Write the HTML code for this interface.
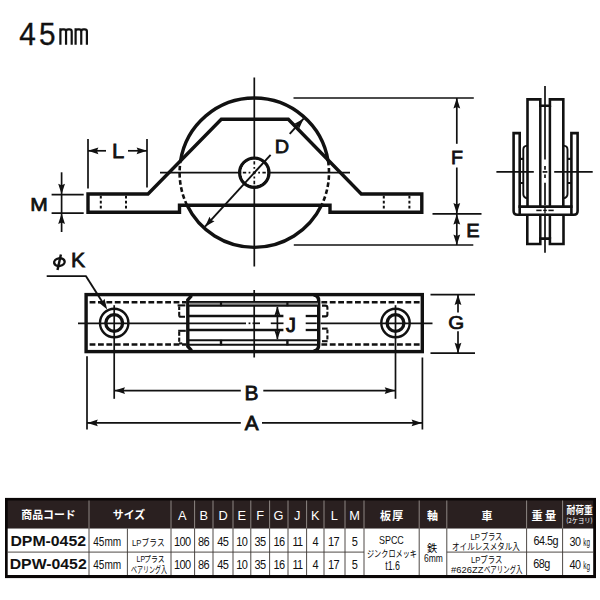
<!DOCTYPE html>
<html lang="ja">
<head>
<meta charset="utf-8">
<title>45mm DPM-0452 / DPW-0452</title>
<style>
html,body{margin:0;padding:0;background:#fff;}
body{width:600px;height:600px;overflow:hidden;}
svg{display:block;}
text{font-family:"Liberation Sans","Noto Sans CJK JP",sans-serif;}
</style>
</head>
<body>
<svg width="600" height="600" viewBox="0 0 600 600">
<rect width="600" height="600" fill="#fff"/>
<g id="title">
<text transform="translate(19.3 44.7) scale(0.93 1)" font-size="32" font-weight="normal" text-anchor="start" fill="#111" stroke="#111" stroke-width="0.35">4</text>
<text transform="translate(39.0 44.7) scale(0.93 1)" font-size="32" font-weight="normal" text-anchor="start" fill="#111" stroke="#111" stroke-width="0.35">5</text>
<path d="M60.4,44.7 V28.2 M60.4,31.60 Q60.4,29.4 62.6,29.4 H64.0 Q66.05,29.4 66.05,31.60 V44.7 M66.05,31.60 Q66.05,29.4 68.25,29.4 H69.6 Q71.7,29.4 71.7,31.60 V44.7" fill="none" stroke="#111" stroke-width="2.2" stroke-linejoin="miter" stroke-linecap="butt"/>
<path d="M75.6,44.7 V28.2 M75.6,31.60 Q75.6,29.4 77.8,29.4 H79.20 Q81.25,29.4 81.25,31.60 V44.7 M81.25,31.60 Q81.25,29.4 83.45,29.4 H84.8 Q86.90,29.4 86.90,31.60 V44.7" fill="none" stroke="#111" stroke-width="2.2" stroke-linejoin="miter" stroke-linecap="butt"/>
</g>
<g id="side-view">
<line x1="254.3" y1="77.5" x2="254.3" y2="266.5" stroke="#111" stroke-width="1.7" stroke-linecap="butt"/>
<line x1="160" y1="172.7" x2="350" y2="172.7" stroke="#111" stroke-width="1.7" stroke-linecap="butt"/>
<path d="M180.54,160.9 A74.7,74.7 0 0 1 328.06,160.9" fill="none" stroke="#111" stroke-width="3.4" stroke-linejoin="miter" stroke-linecap="butt"/>
<path d="M321.51,205.3 A74.7,74.7 0 0 1 187.09,205.3" fill="none" stroke="#111" stroke-width="3.4" stroke-linejoin="miter" stroke-linecap="butt"/>
<path d="M187.09,205.3 A74.7,74.7 0 0 1 180.54,160.9" fill="none" stroke="#111" stroke-width="2.6" stroke-linejoin="miter" stroke-linecap="butt" stroke-dasharray="4.6 2.6"/>
<path d="M328.06,160.9 A74.7,74.7 0 0 1 321.51,205.3" fill="none" stroke="#111" stroke-width="2.6" stroke-linejoin="miter" stroke-linecap="butt" stroke-dasharray="4.6 2.6"/>
<circle cx="254.3" cy="172.7" r="14.6" fill="none" stroke="#111" stroke-width="3.4"/>
<circle cx="254.3" cy="172.7" r="12.9" fill="#fff"/>
<line x1="242.8" y1="172.7" x2="265.8" y2="172.7" stroke="#111" stroke-width="1.7" stroke-linecap="butt" stroke-dasharray="3.4 2.4 1.8 2.4 3 2.4 1.8 2.4 3.4 2.4"/>
<line x1="254.3" y1="161.2" x2="254.3" y2="184.2" stroke="#111" stroke-width="1.7" stroke-linecap="butt" stroke-dasharray="3.4 2.4 1.8 2.4 3 2.4 1.8 2.4 3.4 2.4"/>
<path d="M88,194 H148 L221.3,119.2 H288.3 L361.3,194 H421.8 V212.2 H330 V205.3 H179.5 V212.2 H88 Z" fill="none" stroke="#111" stroke-width="3.4" stroke-linejoin="miter" stroke-linecap="butt"/>
<line x1="100.8" y1="195.8" x2="100.8" y2="210.8" stroke="#111" stroke-width="2.0" stroke-linecap="butt" stroke-dasharray="2.8 2.2"/>
<line x1="126" y1="195.8" x2="126" y2="210.8" stroke="#111" stroke-width="2.0" stroke-linecap="butt" stroke-dasharray="2.8 2.2"/>
<line x1="383.8" y1="195.8" x2="383.8" y2="210.8" stroke="#111" stroke-width="2.0" stroke-linecap="butt" stroke-dasharray="2.8 2.2"/>
<line x1="409.4" y1="195.8" x2="409.4" y2="210.8" stroke="#111" stroke-width="2.0" stroke-linecap="butt" stroke-dasharray="2.8 2.2"/>
<line x1="88" y1="139" x2="88" y2="188.4" stroke="#111" stroke-width="1.7" stroke-linecap="butt"/>
<line x1="147" y1="139" x2="147" y2="187.5" stroke="#111" stroke-width="1.7" stroke-linecap="butt"/>
<line x1="88" y1="150.8" x2="106" y2="150.8" stroke="#111" stroke-width="1.7" stroke-linecap="butt"/>
<line x1="128" y1="150.8" x2="147" y2="150.8" stroke="#111" stroke-width="1.7" stroke-linecap="butt"/>
<polygon points="88.00,150.80 98.40,147.40 96.94,150.80 98.40,154.20" fill="#111"/>
<polygon points="147.00,150.80 136.60,154.20 138.06,150.80 136.60,147.40" fill="#111"/>
<text transform="translate(118.2 158.2) scale(1.07 1)" font-size="20.6" font-weight="normal" text-anchor="middle" fill="#111" stroke="#111" stroke-width="0.75">L</text>
<line x1="51.6" y1="194.6" x2="83.7" y2="194.6" stroke="#111" stroke-width="1.7" stroke-linecap="butt"/>
<line x1="51.6" y1="213.2" x2="83.7" y2="213.2" stroke="#111" stroke-width="1.7" stroke-linecap="butt"/>
<line x1="61.6" y1="172.3" x2="61.6" y2="232" stroke="#111" stroke-width="1.7" stroke-linecap="butt"/>
<polygon points="61.60,194.20 58.20,183.80 61.60,185.26 65.00,183.80" fill="#111"/>
<polygon points="61.60,213.60 65.00,224.00 61.60,222.54 58.20,224.00" fill="#111"/>
<text transform="translate(39 211.3) scale(1.12 1)" font-size="18.8" font-weight="normal" text-anchor="middle" fill="#111" stroke="#111" stroke-width="0.75">M</text>
<line x1="205.01" y1="226.68" x2="270.62" y2="154.83" stroke="#111" stroke-width="1.9" stroke-linecap="butt"/>
<line x1="289.70" y1="133.93" x2="303.59" y2="118.72" stroke="#111" stroke-width="1.9" stroke-linecap="butt"/>
<polygon points="303.59,118.72 299.09,128.69 297.56,125.32 294.07,124.11" fill="#111"/>
<polygon points="205.01,226.68 209.51,216.71 211.04,220.08 214.53,221.29" fill="#111"/>
<text transform="translate(281.9 153.2) scale(1.07 1)" font-size="18.6" font-weight="normal" text-anchor="middle" fill="#111" stroke="#111" stroke-width="0.75">D</text>
<line x1="293.5" y1="98" x2="473.8" y2="98" stroke="#111" stroke-width="1.7" stroke-linecap="butt"/>
<line x1="432.5" y1="213.8" x2="481.5" y2="213.8" stroke="#111" stroke-width="1.7" stroke-linecap="butt"/>
<line x1="293.8" y1="245" x2="473.3" y2="245" stroke="#111" stroke-width="1.7" stroke-linecap="butt"/>
<line x1="456.8" y1="98" x2="456.8" y2="143.8" stroke="#111" stroke-width="1.7" stroke-linecap="butt"/>
<line x1="456.8" y1="167.5" x2="456.8" y2="245" stroke="#111" stroke-width="1.7" stroke-linecap="butt"/>
<polygon points="456.80,98.00 460.20,108.40 456.80,106.94 453.40,108.40" fill="#111"/>
<polygon points="456.80,213.40 453.40,203.00 456.80,204.46 460.20,203.00" fill="#111"/>
<polygon points="456.80,214.20 460.20,224.60 456.80,223.14 453.40,224.60" fill="#111"/>
<polygon points="456.80,245.00 453.40,234.60 456.80,236.06 460.20,234.60" fill="#111"/>
<text transform="translate(457 163.8) scale(1.07 1)" font-size="18.4" font-weight="normal" text-anchor="middle" fill="#111" stroke="#111" stroke-width="0.75">F</text>
<text transform="translate(472.9 236.9) scale(1.07 1)" font-size="18.8" font-weight="normal" text-anchor="middle" fill="#111" stroke="#111" stroke-width="0.75">E</text>
</g>
<g id="front-view">
<line x1="545" y1="86" x2="545" y2="159.4" stroke="#111" stroke-width="1.7" stroke-linecap="butt"/>
<line x1="545" y1="166" x2="545" y2="169.8" stroke="#111" stroke-width="1.7" stroke-linecap="butt"/>
<line x1="545" y1="174.4" x2="545" y2="178" stroke="#111" stroke-width="1.7" stroke-linecap="butt"/>
<line x1="545" y1="182.8" x2="545" y2="205" stroke="#111" stroke-width="1.7" stroke-linecap="butt"/>
<line x1="545" y1="216" x2="545" y2="252.7" stroke="#111" stroke-width="1.7" stroke-linecap="butt"/>
<line x1="496.4" y1="171.9" x2="533.8" y2="171.9" stroke="#111" stroke-width="1.7" stroke-linecap="butt"/>
<line x1="542.6" y1="171.9" x2="547.4" y2="171.9" stroke="#111" stroke-width="1.7" stroke-linecap="butt"/>
<line x1="554.2" y1="171.9" x2="592.7" y2="171.9" stroke="#111" stroke-width="1.7" stroke-linecap="butt"/>
<path d="M527.5,206 V99.4 H540.3 V105.7 H549.9 V99.4 H563.3 V206" fill="none" stroke="#111" stroke-width="2.6" stroke-linejoin="miter" stroke-linecap="butt"/>
<line x1="540.3" y1="105.7" x2="540.3" y2="206" stroke="#111" stroke-width="2.5" stroke-linecap="butt"/>
<line x1="549.9" y1="105.7" x2="549.9" y2="206" stroke="#111" stroke-width="2.5" stroke-linecap="butt"/>
<path d="M527.3,214.7 V244 H540.3 V238.6 H549.9 V244 H563.5 V214.7" fill="none" stroke="#111" stroke-width="2.6" stroke-linejoin="miter" stroke-linecap="butt"/>
<line x1="540.3" y1="214.7" x2="540.3" y2="238.6" stroke="#111" stroke-width="2.5" stroke-linecap="butt"/>
<line x1="549.9" y1="214.7" x2="549.9" y2="238.6" stroke="#111" stroke-width="2.5" stroke-linecap="butt"/>
<path d="M519.7,214 V133.1 H513.6 V211 Q513.6,214.8 517.4,214.8 H573.8 Q577.6,214.8 577.6,211 V133.1 H571.4 V214" fill="none" stroke="#111" stroke-width="2.6" stroke-linejoin="miter" stroke-linecap="butt"/>
<line x1="518.4" y1="206.6" x2="572.6" y2="206.6" stroke="#111" stroke-width="2.6" stroke-linecap="butt"/>
<path d="M527.5,145.6 Q523.3,145.8 523.3,149.6 V194 Q523.3,197.6 527.5,198.4" fill="none" stroke="#111" stroke-width="1.9" stroke-linejoin="miter" stroke-linecap="butt"/>
<path d="M563.3,145.6 Q567.5,145.8 567.5,149.6 V194 Q567.5,197.6 563.3,198.4" fill="none" stroke="#111" stroke-width="1.9" stroke-linejoin="miter" stroke-linecap="butt"/>
<line x1="519.7" y1="158.9" x2="523.3" y2="158.9" stroke="#111" stroke-width="2.2" stroke-linecap="butt"/>
<line x1="519.7" y1="183" x2="523.3" y2="183" stroke="#111" stroke-width="2.0" stroke-linecap="butt"/>
<line x1="567.5" y1="158.9" x2="571.4" y2="158.9" stroke="#111" stroke-width="2.2" stroke-linecap="butt"/>
<line x1="567.5" y1="183" x2="571.4" y2="183" stroke="#111" stroke-width="2.0" stroke-linecap="butt"/>
<line x1="536.3" y1="210.4" x2="541.6" y2="210.4" stroke="#111" stroke-width="1.6" stroke-linecap="butt"/>
<line x1="548.4" y1="210.4" x2="553.7" y2="210.4" stroke="#111" stroke-width="1.6" stroke-linecap="butt"/>
<line x1="543.2" y1="210.4" x2="546.8" y2="210.4" stroke="#111" stroke-width="1.4" stroke-linecap="butt"/>
<line x1="545" y1="207.6" x2="545" y2="213.4" stroke="#111" stroke-width="1.4" stroke-linecap="butt"/>
</g>
<g id="plan-view">
<line x1="254.2" y1="290" x2="254.2" y2="357.5" stroke="#111" stroke-width="1.7" stroke-linecap="butt"/>
<line x1="78" y1="323.3" x2="246" y2="323.3" stroke="#111" stroke-width="1.7" stroke-linecap="butt"/>
<line x1="248.6" y1="323.3" x2="250.4" y2="323.3" stroke="#111" stroke-width="1.7" stroke-linecap="butt"/>
<line x1="252.5" y1="323.3" x2="260" y2="323.3" stroke="#111" stroke-width="1.7" stroke-linecap="butt"/>
<line x1="270.8" y1="323.3" x2="283.5" y2="323.3" stroke="#111" stroke-width="1.7" stroke-linecap="butt"/>
<line x1="305.7" y1="323.3" x2="316.8" y2="323.3" stroke="#111" stroke-width="1.7" stroke-linecap="butt"/>
<line x1="320.5" y1="323.3" x2="432.5" y2="323.3" stroke="#111" stroke-width="1.7" stroke-linecap="butt"/>
<rect x="86.1" y="294.6" width="336.2" height="57" fill="none" stroke="#111" stroke-width="3.4"/>
<path d="M191.6,295.6 L187.8,299.8 V346.4 L191.6,350.6" fill="none" stroke="#111" stroke-width="3.4" stroke-linejoin="miter" stroke-linecap="butt"/>
<path d="M313.6,295 Q318.7,295.4 318.7,301 V345 Q318.7,350.6 313.6,351" fill="none" stroke="#111" stroke-width="3.4" stroke-linejoin="miter" stroke-linecap="butt"/>
<rect x="189" y="302" width="129" height="3.6" fill="#8c8c8c"/>
<line x1="189" y1="301.9" x2="318" y2="301.9" stroke="#111" stroke-width="1.9" stroke-linecap="butt"/>
<line x1="189" y1="305.7" x2="318" y2="305.7" stroke="#111" stroke-width="1.9" stroke-linecap="butt"/>
<line x1="189" y1="340.3" x2="318" y2="340.3" stroke="#111" stroke-width="1.9" stroke-linecap="butt"/>
<line x1="189" y1="344.8" x2="318" y2="344.8" stroke="#111" stroke-width="1.9" stroke-linecap="butt"/>
<line x1="221" y1="301.5" x2="221" y2="306.2" stroke="#111" stroke-width="2.2" stroke-linecap="butt"/>
<line x1="221" y1="339.8" x2="221" y2="345.4" stroke="#111" stroke-width="2.4" stroke-linecap="butt"/>
<line x1="287.4" y1="301.5" x2="287.4" y2="306.2" stroke="#111" stroke-width="2.2" stroke-linecap="butt"/>
<line x1="287.4" y1="339.8" x2="287.4" y2="345.4" stroke="#111" stroke-width="2.4" stroke-linecap="butt"/>
<line x1="189" y1="316" x2="283.4" y2="316" stroke="#111" stroke-width="2.3" stroke-linecap="butt"/>
<line x1="305.7" y1="316" x2="318" y2="316" stroke="#111" stroke-width="2.3" stroke-linecap="butt"/>
<line x1="189" y1="330" x2="283.4" y2="330" stroke="#111" stroke-width="2.3" stroke-linecap="butt"/>
<line x1="305.7" y1="330" x2="318" y2="330" stroke="#111" stroke-width="2.3" stroke-linecap="butt"/>
<line x1="89.6" y1="302.2" x2="186.2" y2="302.2" stroke="#111" stroke-width="2.4" stroke-linecap="butt" stroke-dasharray="5.8 2.6"/>
<line x1="321.4" y1="302.2" x2="420.8" y2="302.2" stroke="#111" stroke-width="2.4" stroke-linecap="butt" stroke-dasharray="5.8 2.6"/>
<line x1="89.6" y1="344.5" x2="186.2" y2="344.5" stroke="#111" stroke-width="2.4" stroke-linecap="butt" stroke-dasharray="5.8 2.6"/>
<line x1="321.4" y1="344.5" x2="420.8" y2="344.5" stroke="#111" stroke-width="2.4" stroke-linecap="butt" stroke-dasharray="5.8 2.6"/>
<line x1="177.6" y1="305.4" x2="185.4" y2="305.4" stroke="#111" stroke-width="2.1" stroke-linecap="butt"/>
<line x1="179.2" y1="306.4" x2="179.2" y2="310" stroke="#111" stroke-width="2.1" stroke-linecap="butt"/>
<line x1="179.2" y1="311.8" x2="179.2" y2="315.6" stroke="#111" stroke-width="2.1" stroke-linecap="butt"/>
<path d="M179.2,315.2 Q179.2,316.7 180.8,316.7 H185.0" fill="none" stroke="#111" stroke-width="2.1" stroke-linejoin="miter" stroke-linecap="butt"/>
<line x1="178.2" y1="330.8" x2="185.8" y2="330.8" stroke="#111" stroke-width="2.1" stroke-linecap="butt"/>
<line x1="179.2" y1="331.8" x2="179.2" y2="335.8" stroke="#111" stroke-width="2.1" stroke-linecap="butt"/>
<line x1="179.2" y1="337.6" x2="179.2" y2="341.8" stroke="#111" stroke-width="2.1" stroke-linecap="butt"/>
<line x1="179.0" y1="343.4" x2="182.2" y2="343.4" stroke="#111" stroke-width="2.1" stroke-linecap="butt"/>
<path d="M322,305.6 H325.4 Q327.4,305.6 327.4,307.6 V309.8" fill="none" stroke="#111" stroke-width="2.1" stroke-linejoin="miter" stroke-linecap="butt"/>
<path d="M327.4,311.8 V314.4 Q327.4,316.4 325.4,316.4 H322" fill="none" stroke="#111" stroke-width="2.1" stroke-linejoin="miter" stroke-linecap="butt"/>
<line x1="322" y1="328.6" x2="327.6" y2="328.6" stroke="#111" stroke-width="2.1" stroke-linecap="butt"/>
<line x1="327.4" y1="329.6" x2="327.4" y2="333.4" stroke="#111" stroke-width="2.1" stroke-linecap="butt"/>
<line x1="327.4" y1="335.4" x2="327.4" y2="339.4" stroke="#111" stroke-width="2.1" stroke-linecap="butt"/>
<line x1="322" y1="341.2" x2="327.6" y2="341.2" stroke="#111" stroke-width="2.1" stroke-linecap="butt"/>
<circle cx="114.2" cy="323.0" r="14.2" fill="none" stroke="#111" stroke-width="2.4"/>
<circle cx="114.2" cy="323.0" r="8.4" fill="none" stroke="#111" stroke-width="3.3"/>
<line x1="114.2" y1="305.2" x2="114.2" y2="398.8" stroke="#111" stroke-width="1.7" stroke-linecap="butt"/>
<circle cx="395.5" cy="323.0" r="14.2" fill="none" stroke="#111" stroke-width="2.4"/>
<circle cx="395.5" cy="323.0" r="8.4" fill="none" stroke="#111" stroke-width="3.3"/>
<line x1="395.5" y1="305.2" x2="395.5" y2="398.8" stroke="#111" stroke-width="1.7" stroke-linecap="butt"/>
<line x1="46.7" y1="276.2" x2="86.6" y2="276.2" stroke="#111" stroke-width="1.8" stroke-linecap="butt"/>
<line x1="86" y1="276.2" x2="104.6" y2="305.6" stroke="#111" stroke-width="1.9" stroke-linecap="butt"/>
<polygon points="107.20,309.40 98.74,302.46 102.39,301.86 104.47,298.80" fill="#111"/>
<g aria-label="φ"><ellipse cx="59.4" cy="262.1" rx="5.3" ry="3.8" transform="rotate(-10 59.4 262.1)" fill="none" stroke="#111" stroke-width="2.4"/>
<line x1="60.9" y1="254.6" x2="57.5" y2="270" stroke="#111" stroke-width="2.4" stroke-linecap="butt"/>
</g>
<text transform="translate(70.9 267.3) scale(1.06 1)" font-size="20" font-weight="normal" text-anchor="start" fill="#111" stroke="#111" stroke-width="0.75">K</text>
<line x1="277.4" y1="307" x2="277.4" y2="339.2" stroke="#111" stroke-width="1.7" stroke-linecap="butt"/>
<polygon points="277.40,306.60 280.40,315.60 277.40,314.34 274.40,315.60" fill="#111"/>
<polygon points="277.40,339.60 274.40,330.60 277.40,331.86 280.40,330.60" fill="#111"/>
<text transform="translate(291 332.4) scale(1.0 1)" font-size="19.6" font-weight="normal" text-anchor="middle" fill="#111" stroke="#111" stroke-width="1.0">J</text>
<line x1="430.5" y1="294.6" x2="475" y2="294.6" stroke="#111" stroke-width="1.7" stroke-linecap="butt"/>
<line x1="430.5" y1="353.2" x2="475" y2="353.2" stroke="#111" stroke-width="1.7" stroke-linecap="butt"/>
<line x1="458" y1="294.6" x2="458" y2="312.5" stroke="#111" stroke-width="1.7" stroke-linecap="butt"/>
<line x1="458" y1="331.3" x2="458" y2="353.2" stroke="#111" stroke-width="1.7" stroke-linecap="butt"/>
<polygon points="458.00,294.60 461.40,305.00 458.00,303.54 454.60,305.00" fill="#111"/>
<polygon points="458.00,353.20 454.60,342.80 458.00,344.26 461.40,342.80" fill="#111"/>
<text transform="translate(456.3 329.3) scale(1.1 1)" font-size="18.6" font-weight="normal" text-anchor="middle" fill="#111" stroke="#111" stroke-width="0.75">G</text>
<line x1="114.2" y1="390.6" x2="240.8" y2="390.6" stroke="#111" stroke-width="1.7" stroke-linecap="butt"/>
<line x1="263.3" y1="390.6" x2="395.5" y2="390.6" stroke="#111" stroke-width="1.7" stroke-linecap="butt"/>
<polygon points="114.60,390.60 125.00,387.20 123.54,390.60 125.00,394.00" fill="#111"/>
<polygon points="395.10,390.60 384.70,394.00 386.16,390.60 384.70,387.20" fill="#111"/>
<text transform="translate(251.4 399.5) scale(1.07 1)" font-size="19.6" font-weight="normal" text-anchor="middle" fill="#111" stroke="#111" stroke-width="0.75">B</text>
<line x1="87" y1="356.3" x2="87" y2="429.5" stroke="#111" stroke-width="1.7" stroke-linecap="butt"/>
<line x1="422.4" y1="357.5" x2="422.4" y2="429.5" stroke="#111" stroke-width="1.7" stroke-linecap="butt"/>
<line x1="87" y1="422.9" x2="240.8" y2="422.9" stroke="#111" stroke-width="1.7" stroke-linecap="butt"/>
<line x1="262" y1="422.9" x2="422.4" y2="422.9" stroke="#111" stroke-width="1.7" stroke-linecap="butt"/>
<polygon points="87.40,422.90 97.80,419.50 96.34,422.90 97.80,426.30" fill="#111"/>
<polygon points="422.00,422.90 411.60,426.30 413.06,422.90 411.60,419.50" fill="#111"/>
<text transform="translate(251.7 430.1) scale(1.07 1)" font-size="19.4" font-weight="normal" text-anchor="middle" fill="#111" stroke="#111" stroke-width="0.75">A</text>
</g>
<g id="table">
<rect x="5" y="497.9" width="591" height="80.2" fill="#0a0606"/>
<rect x="7.7" y="500.5" width="585.5" height="28" fill="#2a2020"/>
<rect x="7.7" y="528.5" width="585.5" height="46.5" fill="#fff"/>
<line x1="89" y1="500.5" x2="89" y2="528.5" stroke="#8d8683" stroke-width="1.0" stroke-linecap="butt"/>
<line x1="89" y1="528.5" x2="89" y2="575.0" stroke="#3a3431" stroke-width="0.9" stroke-linecap="butt"/>
<line x1="171" y1="500.5" x2="171" y2="528.5" stroke="#8d8683" stroke-width="1.0" stroke-linecap="butt"/>
<line x1="171" y1="528.5" x2="171" y2="575.0" stroke="#3a3431" stroke-width="0.9" stroke-linecap="butt"/>
<line x1="194.6" y1="500.5" x2="194.6" y2="528.5" stroke="#8d8683" stroke-width="1.0" stroke-linecap="butt"/>
<line x1="194.6" y1="528.5" x2="194.6" y2="575.0" stroke="#3a3431" stroke-width="0.9" stroke-linecap="butt"/>
<line x1="213" y1="500.5" x2="213" y2="528.5" stroke="#8d8683" stroke-width="1.0" stroke-linecap="butt"/>
<line x1="213" y1="528.5" x2="213" y2="575.0" stroke="#3a3431" stroke-width="0.9" stroke-linecap="butt"/>
<line x1="233" y1="500.5" x2="233" y2="528.5" stroke="#8d8683" stroke-width="1.0" stroke-linecap="butt"/>
<line x1="233" y1="528.5" x2="233" y2="575.0" stroke="#3a3431" stroke-width="0.9" stroke-linecap="butt"/>
<line x1="250.8" y1="500.5" x2="250.8" y2="528.5" stroke="#8d8683" stroke-width="1.0" stroke-linecap="butt"/>
<line x1="250.8" y1="528.5" x2="250.8" y2="575.0" stroke="#3a3431" stroke-width="0.9" stroke-linecap="butt"/>
<line x1="269.6" y1="500.5" x2="269.6" y2="528.5" stroke="#8d8683" stroke-width="1.0" stroke-linecap="butt"/>
<line x1="269.6" y1="528.5" x2="269.6" y2="575.0" stroke="#3a3431" stroke-width="0.9" stroke-linecap="butt"/>
<line x1="288" y1="500.5" x2="288" y2="528.5" stroke="#8d8683" stroke-width="1.0" stroke-linecap="butt"/>
<line x1="288" y1="528.5" x2="288" y2="575.0" stroke="#3a3431" stroke-width="0.9" stroke-linecap="butt"/>
<line x1="306.6" y1="500.5" x2="306.6" y2="528.5" stroke="#8d8683" stroke-width="1.0" stroke-linecap="butt"/>
<line x1="306.6" y1="528.5" x2="306.6" y2="575.0" stroke="#3a3431" stroke-width="0.9" stroke-linecap="butt"/>
<line x1="324" y1="500.5" x2="324" y2="528.5" stroke="#8d8683" stroke-width="1.0" stroke-linecap="butt"/>
<line x1="324" y1="528.5" x2="324" y2="575.0" stroke="#3a3431" stroke-width="0.9" stroke-linecap="butt"/>
<line x1="345" y1="500.5" x2="345" y2="528.5" stroke="#8d8683" stroke-width="1.0" stroke-linecap="butt"/>
<line x1="345" y1="528.5" x2="345" y2="575.0" stroke="#3a3431" stroke-width="0.9" stroke-linecap="butt"/>
<line x1="364" y1="500.5" x2="364" y2="528.5" stroke="#8d8683" stroke-width="1.0" stroke-linecap="butt"/>
<line x1="364" y1="528.5" x2="364" y2="575.0" stroke="#3a3431" stroke-width="0.9" stroke-linecap="butt"/>
<line x1="419.2" y1="500.5" x2="419.2" y2="528.5" stroke="#8d8683" stroke-width="1.0" stroke-linecap="butt"/>
<line x1="419.2" y1="528.5" x2="419.2" y2="575.0" stroke="#3a3431" stroke-width="0.9" stroke-linecap="butt"/>
<line x1="446.8" y1="500.5" x2="446.8" y2="528.5" stroke="#8d8683" stroke-width="1.0" stroke-linecap="butt"/>
<line x1="446.8" y1="528.5" x2="446.8" y2="575.0" stroke="#3a3431" stroke-width="0.9" stroke-linecap="butt"/>
<line x1="526.6" y1="500.5" x2="526.6" y2="528.5" stroke="#8d8683" stroke-width="1.0" stroke-linecap="butt"/>
<line x1="526.6" y1="528.5" x2="526.6" y2="575.0" stroke="#3a3431" stroke-width="0.9" stroke-linecap="butt"/>
<line x1="562.6" y1="500.5" x2="562.6" y2="528.5" stroke="#8d8683" stroke-width="1.0" stroke-linecap="butt"/>
<line x1="562.6" y1="528.5" x2="562.6" y2="575.0" stroke="#3a3431" stroke-width="0.9" stroke-linecap="butt"/>
<line x1="127.4" y1="528.5" x2="127.4" y2="575.0" stroke="#3a3431" stroke-width="0.9" stroke-linecap="butt"/>
<line x1="7.7" y1="552.1" x2="364" y2="552.1" stroke="#3a3431" stroke-width="0.9" stroke-linecap="butt"/>
<line x1="446.8" y1="552.1" x2="593.2" y2="552.1" stroke="#3a3431" stroke-width="0.9" stroke-linecap="butt"/>
<text transform="translate(21.25 519.0) scale(1 1)" font-size="10.9" font-weight="bold" text-anchor="start" fill="#fff">商品コード</text>
<text transform="translate(112.85 519.2) scale(1 1)" font-size="10.9" font-weight="bold" text-anchor="start" fill="#fff">サイズ</text>
<text transform="translate(182.3 519.7) scale(1.0 1)" font-size="12.8" font-weight="normal" text-anchor="middle" fill="#fff">A</text>
<text transform="translate(203.7 519.7) scale(1.0 1)" font-size="12.8" font-weight="normal" text-anchor="middle" fill="#fff">B</text>
<text transform="translate(223.2 519.7) scale(1.0 1)" font-size="12.8" font-weight="normal" text-anchor="middle" fill="#fff">D</text>
<text transform="translate(241.8 519.7) scale(1.0 1)" font-size="12.8" font-weight="normal" text-anchor="middle" fill="#fff">E</text>
<text transform="translate(260.2 519.7) scale(1.0 1)" font-size="12.8" font-weight="normal" text-anchor="middle" fill="#fff">F</text>
<text transform="translate(278.6 519.7) scale(1.0 1)" font-size="12.8" font-weight="normal" text-anchor="middle" fill="#fff">G</text>
<text transform="translate(297.3 519.7) scale(1.0 1)" font-size="12.8" font-weight="normal" text-anchor="middle" fill="#fff">J</text>
<text transform="translate(315.3 519.7) scale(1.0 1)" font-size="12.8" font-weight="normal" text-anchor="middle" fill="#fff">K</text>
<text transform="translate(334.2 519.7) scale(1.0 1)" font-size="12.8" font-weight="normal" text-anchor="middle" fill="#fff">L</text>
<text transform="translate(354.6 519.7) scale(1.0 1)" font-size="12.8" font-weight="normal" text-anchor="middle" fill="#fff">M</text>
<text transform="translate(380.1 519.8) scale(1 1)" font-size="11" font-weight="bold" text-anchor="start" fill="#fff">板</text>
<text transform="translate(392.3 519.8) scale(1 1)" font-size="11" font-weight="bold" text-anchor="start" fill="#fff">厚</text>
<text transform="translate(427.1 519.8) scale(1 1)" font-size="11" font-weight="bold" text-anchor="start" fill="#fff">軸</text>
<text transform="translate(481.5 519.8) scale(1 1)" font-size="11" font-weight="bold" text-anchor="start" fill="#fff">車</text>
<text transform="translate(531.4 520.0) scale(1 1)" font-size="11.2" font-weight="bold" text-anchor="start" fill="#fff">重</text>
<text transform="translate(545.0 520.0) scale(1 1)" font-size="11.2" font-weight="bold" text-anchor="start" fill="#fff">量</text>
<text transform="translate(566.44 514.0) scale(0.86 1)" font-size="10.2" font-weight="bold" text-anchor="start" fill="#fff">耐荷重</text>
<text transform="translate(566.14 523.2) scale(0.95 1)" font-size="6.6" font-weight="normal" text-anchor="start" fill="#fff" style="font-family:'Noto Sans CJK JP','Liberation Sans',sans-serif">(2ケヨリ)</text>
<text transform="translate(48.2 545.8) scale(1.055 1)" font-size="15.0" font-weight="bold" text-anchor="middle" fill="#111">DPM-0452</text>
<text transform="translate(107.2 545.9) scale(0.8 1)" font-size="12.6" font-weight="normal" text-anchor="middle" fill="#111">45mm</text>
<text transform="translate(182.2 545.9) scale(0.86 1)" font-size="12.8" font-weight="normal" text-anchor="middle" fill="#111" letter-spacing="-0.75">100</text>
<text transform="translate(203.6 545.9) scale(0.86 1)" font-size="12.8" font-weight="normal" text-anchor="middle" fill="#111" letter-spacing="-0.75">86</text>
<text transform="translate(222.8 545.9) scale(0.86 1)" font-size="12.8" font-weight="normal" text-anchor="middle" fill="#111" letter-spacing="-0.75">45</text>
<text transform="translate(241.8 545.9) scale(0.86 1)" font-size="12.8" font-weight="normal" text-anchor="middle" fill="#111" letter-spacing="-0.75">10</text>
<text transform="translate(260.1 545.9) scale(0.86 1)" font-size="12.8" font-weight="normal" text-anchor="middle" fill="#111" letter-spacing="-0.75">35</text>
<text transform="translate(279 545.9) scale(0.86 1)" font-size="12.8" font-weight="normal" text-anchor="middle" fill="#111" letter-spacing="-0.75">16</text>
<text transform="translate(297.5 545.9) scale(0.86 1)" font-size="12.8" font-weight="normal" text-anchor="middle" fill="#111" letter-spacing="-0.75">11</text>
<text transform="translate(315.2 545.9) scale(0.86 1)" font-size="12.8" font-weight="normal" text-anchor="middle" fill="#111" letter-spacing="-0.75">4</text>
<text transform="translate(333.6 545.9) scale(0.86 1)" font-size="12.8" font-weight="normal" text-anchor="middle" fill="#111" letter-spacing="-0.75">17</text>
<text transform="translate(354.6 545.9) scale(0.86 1)" font-size="12.8" font-weight="normal" text-anchor="middle" fill="#111" letter-spacing="-0.75">5</text>
<text transform="translate(48.2 569.2) scale(1.055 1)" font-size="15.0" font-weight="bold" text-anchor="middle" fill="#111">DPW-0452</text>
<text transform="translate(107.2 569.3) scale(0.8 1)" font-size="12.6" font-weight="normal" text-anchor="middle" fill="#111">45mm</text>
<text transform="translate(182.2 569.3) scale(0.86 1)" font-size="12.8" font-weight="normal" text-anchor="middle" fill="#111" letter-spacing="-0.75">100</text>
<text transform="translate(203.6 569.3) scale(0.86 1)" font-size="12.8" font-weight="normal" text-anchor="middle" fill="#111" letter-spacing="-0.75">86</text>
<text transform="translate(222.8 569.3) scale(0.86 1)" font-size="12.8" font-weight="normal" text-anchor="middle" fill="#111" letter-spacing="-0.75">45</text>
<text transform="translate(241.8 569.3) scale(0.86 1)" font-size="12.8" font-weight="normal" text-anchor="middle" fill="#111" letter-spacing="-0.75">10</text>
<text transform="translate(260.1 569.3) scale(0.86 1)" font-size="12.8" font-weight="normal" text-anchor="middle" fill="#111" letter-spacing="-0.75">35</text>
<text transform="translate(279 569.3) scale(0.86 1)" font-size="12.8" font-weight="normal" text-anchor="middle" fill="#111" letter-spacing="-0.75">16</text>
<text transform="translate(297.5 569.3) scale(0.86 1)" font-size="12.8" font-weight="normal" text-anchor="middle" fill="#111" letter-spacing="-0.75">11</text>
<text transform="translate(315.2 569.3) scale(0.86 1)" font-size="12.8" font-weight="normal" text-anchor="middle" fill="#111" letter-spacing="-0.75">4</text>
<text transform="translate(333.6 569.3) scale(0.86 1)" font-size="12.8" font-weight="normal" text-anchor="middle" fill="#111" letter-spacing="-0.75">17</text>
<text transform="translate(354.6 569.3) scale(0.86 1)" font-size="12.8" font-weight="normal" text-anchor="middle" fill="#111" letter-spacing="-0.75">5</text>
<text transform="translate(136.6 546) scale(0.82 1)" font-size="9.4" font-weight="normal" text-anchor="middle" fill="#111">LP</text>
<text transform="translate(141.59 546.0) scale(0.86 1)" font-size="9" font-weight="normal" text-anchor="start" fill="#000">ブラス</text>
<text transform="translate(140.8 562) scale(0.8 1)" font-size="8.6" font-weight="normal" text-anchor="middle" fill="#111">LP</text>
<text transform="translate(144.07 562.0) scale(0.84 1)" font-size="8.2" font-weight="normal" text-anchor="start" fill="#000">プラス</text>
<text transform="translate(130.94 572.8) scale(0.7 1)" font-size="8.6" font-weight="normal" text-anchor="start" fill="#000">ベアリング入</text>
<text transform="translate(391.4 543.8) scale(0.76 1)" font-size="11.8" font-weight="normal" text-anchor="middle" fill="#111">SPCC</text>
<text transform="translate(366.97 556.8) scale(0.745 1)" font-size="9.6" font-weight="normal" text-anchor="start" fill="#000">ジンクロメッキ</text>
<text transform="translate(392.6 570) scale(0.74 1)" font-size="12" font-weight="normal" text-anchor="middle" fill="#111">t1.6</text>
<text transform="translate(426.9 551.6) scale(1 1)" font-size="10.2" font-weight="normal" text-anchor="start" fill="#000">鉄</text>
<text transform="translate(433.4 562.2) scale(0.82 1)" font-size="10.4" font-weight="normal" text-anchor="middle" fill="#111">6mm</text>
<text transform="translate(475.2 540) scale(0.82 1)" font-size="9.4" font-weight="normal" text-anchor="middle" fill="#111">LP</text>
<text transform="translate(480.51 540.0) scale(0.84 1)" font-size="8.8" font-weight="normal" text-anchor="start" fill="#000">プラス</text>
<text transform="translate(452.05 549.8) scale(0.82 1)" font-size="9.2" font-weight="normal" text-anchor="start" fill="#000">オイルレスメタル入</text>
<text transform="translate(475.6 563) scale(0.82 1)" font-size="9.4" font-weight="normal" text-anchor="middle" fill="#111">LP</text>
<text transform="translate(480.31 563.0) scale(0.84 1)" font-size="8.8" font-weight="normal" text-anchor="start" fill="#000">プラス</text>
<text transform="translate(467.2 572.8) scale(0.96 1)" font-size="9.8" font-weight="normal" text-anchor="middle" fill="#111">#626ZZ</text>
<text transform="translate(483.88 572.8) scale(0.7 1)" font-size="9.2" font-weight="normal" text-anchor="start" fill="#000">ベアリング入</text>
<text transform="translate(545.8 545.4) scale(0.86 1)" font-size="12.6" font-weight="normal" text-anchor="middle" fill="#111" letter-spacing="-0.6">64.5g</text>
<text transform="translate(541.6 568.4) scale(0.86 1)" font-size="12.6" font-weight="normal" text-anchor="middle" fill="#111" letter-spacing="-0.6">68g</text>
<text transform="translate(575.0 545.8) scale(0.86 1)" font-size="12.6" font-weight="normal" text-anchor="middle" fill="#111" letter-spacing="-0.6">30</text>
<text transform="translate(575.0 569) scale(0.86 1)" font-size="12.6" font-weight="normal" text-anchor="middle" fill="#111" letter-spacing="-0.6">40</text>
<text transform="translate(584.8 545.5) scale(0.62 1)" font-size="10.2" font-weight="normal" text-anchor="middle" fill="#111">k</text>
<text transform="translate(588.3 546.3) scale(0.62 1)" font-size="10.2" font-weight="normal" text-anchor="middle" fill="#111">g</text>
<text transform="translate(584.8 568.7) scale(0.62 1)" font-size="10.2" font-weight="normal" text-anchor="middle" fill="#111">k</text>
<text transform="translate(588.3 569.5) scale(0.62 1)" font-size="10.2" font-weight="normal" text-anchor="middle" fill="#111">g</text>
</g>
</svg>
</body>
</html>
